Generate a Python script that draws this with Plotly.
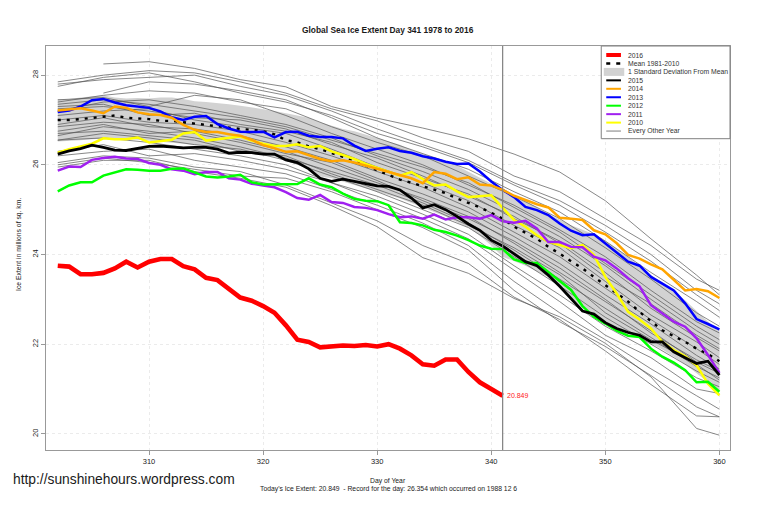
import plotly.graph_objects as go

# =============================================================================
# Data
# =============================================================================
days = list(range(302, 361))
today = 341
today_value = 20.849

ice_2016 = [23.75, 23.73, 23.56, 23.56, 23.59, 23.69, 23.84, 23.71, 23.84, 23.9,
            23.9, 23.74, 23.67, 23.48, 23.43, 23.23, 23.04, 22.97, 22.85, 22.7,
            22.42, 22.1, 22.05, 21.93, 21.96, 21.97, 21.96, 21.98, 21.95, 22.0,
            21.9, 21.75, 21.55, 21.52, 21.66, 21.66, 21.38, 21.15, 21.0, 20.849]

ice_2015 = [26.24, 26.31, 26.36, 26.44, 26.39, 26.33, 26.32, 26.36, 26.41, 26.42,
            26.4, 26.38, 26.39, 26.39, 26.35, 26.26, 26.28, 26.27, 26.24,
            26.24, 26.11, 26.05, 25.91, 25.7, 25.63, 25.68, 25.63, 25.58, 25.53,
            25.52, 25.44, 25.26, 25.04, 25.11, 25.0, 24.85, 24.68, 24.54, 24.32,
            24.19, 24.02, 23.84, 23.75, 23.54, 23.29, 23.02, 22.74, 22.67, 22.48,
            22.35, 22.26, 22.2, 22.05, 22.05, 21.83, 21.7, 21.57, 21.62, 21.31]

ice_2014 = [27.21, 27.24, 27.26, 27.21, 27.15, 27.3, 27.27, 27.17, 27.13, 27.11,
            27.05, 26.89, 26.78, 26.73, 26.73, 26.68, 26.65, 26.56, 26.44,
            26.37, 26.29, 26.3, 26.21, 26.13, 26.08, 26.1, 26.05, 25.98, 25.91,
            25.84, 25.78, 25.7, 25.59, 25.84, 25.8, 25.68, 25.72, 25.56, 25.54,
            25.44, 25.31, 25.21, 25.12, 25.05, 24.82, 24.8, 24.77, 24.54, 24.45,
            24.25, 23.99, 23.91, 23.78, 23.67, 23.44, 23.2, 23.23, 23.18, 23.03]

ice_2013 = [27.18, 27.21, 27.3, 27.44, 27.47, 27.39, 27.33, 27.3, 27.27, 27.19,
            27.06, 27.0, 27.07, 27.09, 26.91, 26.81, 26.74, 26.73, 26.74,
            26.61, 26.73, 26.74, 26.65, 26.62, 26.62, 26.59, 26.43, 26.31, 26.36,
            26.39, 26.31, 26.27, 26.19, 26.14, 26.07, 26.02, 26.03, 25.85, 25.63,
            25.44, 25.28, 25.06, 24.99, 24.88, 24.69, 24.53, 24.43, 24.45, 24.25,
            24.06, 23.84, 23.75, 23.5, 23.35, 23.2, 22.91, 22.56, 22.45, 22.33]

ice_2012 = [25.41, 25.54, 25.61, 25.61, 25.76, 25.83, 25.9, 25.89, 25.87, 25.87,
            25.91, 25.92, 25.83, 25.74, 25.72, 25.74, 25.78, 25.61, 25.56,
            25.56, 25.56, 25.57, 25.7, 25.56, 25.5, 25.36, 25.24, 25.2, 25.19,
            25.1, 24.72, 24.7, 24.65, 24.55, 24.5, 24.42, 24.32, 24.2, 24.13,
            24.12, 23.89, 23.81, 23.81, 23.61, 23.43, 23.21, 22.85, 22.61, 22.46,
            22.3, 22.19, 22.16, 21.9, 21.72, 21.59, 21.42, 21.15, 21.16, 20.94]

ice_2011 = [25.87, 25.96, 25.95, 26.11, 26.15, 26.18, 26.14, 26.13, 26.04, 26.0,
            25.9, 25.87, 25.79, 25.84, 25.84, 25.7, 25.67, 25.58, 25.54,
            25.5, 25.39, 25.26, 25.22, 25.33, 25.17, 25.15, 25.06, 25.04, 24.99,
            24.9, 24.83, 24.85, 24.8, 24.89, 24.78, 24.83, 24.83, 24.8, 24.88,
            24.74, 24.71, 24.75, 24.58, 24.28, 24.28, 24.17, 24.16, 23.95, 23.87,
            23.69, 23.47, 23.29, 22.87, 22.68, 22.5, 22.39, 22.13, 21.76, 21.36]

ice_2010 = [26.27, 26.35, 26.41, 26.47, 26.59, 26.57, 26.57, 26.61, 26.5, 26.53,
            26.56, 26.7, 26.73, 26.54, 26.57, 26.61, 26.63, 26.54, 26.47,
            26.42, 26.42, 26.46, 26.39, 26.42, 26.3, 26.22, 26.13, 26.02, 25.93,
            25.85, 25.76, 25.84, 25.68, 25.54, 25.56, 25.41, 25.28, 25.3, 25.32,
            25.04, 24.77, 24.62, 24.43, 24.28, 24.21, 24.14, 24.21, 23.99, 23.5,
            23.13, 22.72, 22.55, 22.35, 22.05, 21.87, 21.73, 21.53, 21.12, 20.86]

mean_8110 = [27.0, 27.0, 27.02, 27.05, 27.08, 27.1, 27.05, 27.03, 27.02, 26.98,
             26.98, 26.95, 26.92, 26.88, 26.85, 26.83, 26.8, 26.78, 26.75, 26.68,
             26.55, 26.5, 26.41, 26.35, 26.26, 26.18, 26.1, 25.98, 25.88, 25.78,
             25.67, 25.6, 25.52, 25.45, 25.37, 25.25, 25.15, 25.05, 24.93, 24.8,
             24.62, 24.48, 24.35, 24.17, 24.02, 23.85, 23.69, 23.5, 23.32, 23.15,
             22.95, 22.72, 22.52, 22.31, 22.18, 22.05, 21.9, 21.78, 21.62]

sd_upper = [27.46, 27.47, 27.5, 27.52, 27.55, 27.5, 27.48, 27.49, 27.48, 27.5,
            27.5, 27.47, 27.42, 27.4, 27.38, 27.35, 27.32, 27.28, 27.25, 27.2,
            27.15, 27.1, 27.05, 26.95, 26.88, 26.8, 26.75, 26.68, 26.6, 26.52,
            26.45, 26.33, 26.25, 26.17, 26.08, 25.98, 25.85, 25.72, 25.58, 25.44,
            25.3, 25.2, 25.05, 24.9, 24.78, 24.65, 24.55, 24.45, 24.3, 24.12,
            23.95, 23.73, 23.55, 23.35, 23.17, 22.98, 22.75, 22.5, 22.31]

sd_lower = [26.52, 26.53, 26.55, 26.57, 26.59, 26.6, 26.58, 26.56, 26.54, 26.52,
            26.5, 26.47, 26.44, 26.41, 26.38, 26.34, 26.3, 26.26, 26.22, 26.18,
            26.12, 26.05, 25.9, 25.74, 25.7, 25.62, 25.55, 25.48, 25.4, 25.33,
            25.25, 25.15, 25.05, 24.95, 24.85, 24.72, 24.6, 24.42, 24.2, 23.95,
            23.85, 23.75, 23.62, 23.5, 23.28, 23.05, 22.82, 22.65, 22.46, 22.38,
            22.28, 22.15, 22.02, 21.88, 21.72, 21.55, 21.35, 21.15, 20.98]

# thin lines are only read every few days
other_days = [302, 306, 310, 314, 318, 322, 326, 330, 334, 338, 342, 346, 350, 354, 358, 360]
other_years = [
    [None, 28.25, 28.3, 28.15, 27.9, 27.74, 27.3, 27.04, 26.82, 26.58, 26.24, 25.84, 25.2, 24.35, 23.54, 23.1],
    [27.85, 28.0, 28.1, 28.05, 27.85, 27.6, 27.25, 26.98, 26.6, 26.3, 25.75, 25.4, 24.8, 24.2, 23.45, 23.2],
    [27.8, 27.9, 27.95, 28.0, 27.75, 27.55, 27.2, 26.8, 26.45, 26.1, 25.6, 25.2, 24.65, 24.0, 23.2, 22.9],
    [27.75, 27.95, 28.05, 27.85, 27.6, 27.4, 27.1, 26.7, 26.4, 26.05, 25.55, 25.1, 24.5, 23.85, 23.1, 22.75],
    [None, 27.6, 27.85, 27.8, 27.65, 27.45, 27.05, 26.6, 26.25, 25.9, 25.4, 24.95, 24.3, 23.6, 22.95, 22.6],
    [27.4, 27.55, 27.65, 27.6, 27.4, 27.25, 26.85, 26.5, 26.2, 25.75, 25.3, 24.8, 24.15, 23.45, 22.7, 22.4],
    [27.45, 27.5, 27.3, 27.55, 27.45, 27.1, 26.7, 26.35, 26.0, 25.55, 25.1, 24.55, 23.95, 23.2, 22.5, 22.25],
    [27.2, 27.4, 27.45, 27.3, 27.1, 26.9, 26.6, 26.2, 25.85, 25.45, 24.95, 24.4, 23.75, 23.0, 22.3, 22.0],
    [27.3, 27.35, 27.1, 27.15, 26.9, 26.75, 26.5, 26.05, 25.7, 25.35, 24.8, 24.3, 23.6, 22.8, 22.15, 21.85],
    [27.1, 27.2, 27.25, 27.0, 26.85, 26.7, 26.35, 25.95, 25.6, 25.2, 24.65, 24.15, 23.4, 22.65, 22.05, 21.7],
    [27.0, 27.1, 26.95, 26.9, 26.75, 26.5, 26.2, 25.85, 25.5, 25.05, 24.5, 23.95, 23.25, 22.55, 21.9, 21.55],
    [26.9, 27.05, 26.85, 26.8, 26.65, 26.4, 26.1, 25.7, 25.35, 24.95, 24.4, 23.8, 23.1, 22.45, 21.75, 21.45],
    [26.75, 26.9, 26.7, 26.75, 26.55, 26.3, 25.95, 25.6, 25.25, 24.85, 24.25, 23.6, 22.95, 22.3, 21.6, 21.35],
    [26.65, 26.85, 26.75, 26.6, 26.4, 26.15, 25.85, 25.55, 25.15, 24.7, 24.1, 23.45, 22.8, 22.15, 21.5, 21.25],
    [26.55, 26.7, 26.6, 26.45, 26.35, 26.1, 25.75, 25.4, 25.0, 24.6, 23.95, 23.3, 22.6, 22.0, 21.4, 21.15],
    [26.55, 26.6, 26.5, 26.35, 26.2, 26.0, 25.6, 25.3, 24.9, 24.45, 23.75, 23.1, 22.4, 21.85, 21.25, 21.05],
    [26.3, 26.45, 26.2, 26.25, 26.1, 25.9, 25.6, 25.2, 24.8, 24.35, 23.65, 22.95, 22.2, 21.7, 21.0, 20.9],
    [26.2, 26.3, 26.35, 26.1, 25.95, 25.8, 25.45, 25.1, 24.7, 24.2, 23.4, 22.7, 22.1, 21.45, 20.85, 20.55],
    [26.0, 26.15, 26.05, 25.9, 25.75, 25.7, 25.4, 25.0, 24.6, 24.1, 23.2, 22.5, 21.95, 21.3, 20.6, 20.38],
    [26.05, 26.2, 26.15, 25.95, 25.85, 25.55, 25.15, 24.75, 24.2, 23.8, 23.05, 22.55, 21.85, 21.1, 20.4, 20.38],
    [25.95, 26.1, 26.1, 25.85, 25.7, 25.5, 25.09, 24.62, 23.93, 23.58, 23.02, 22.61, 22.02, 21.27, 20.12, 19.97],
    [27.25, 27.3, 27.2, 27.05, 27.0, 26.8, 26.45, 26.15, 25.75, 25.3, 24.85, 24.25, 23.5, 22.9, 22.2, 21.9],
    [27.35, 27.45, 27.35, 27.2, 27.05, 26.85, 26.55, 26.25, 25.95, 25.6, 25.05, 24.5, 23.8, 23.1, 22.4, 22.1],
    [26.85, 26.95, 26.9, 26.7, 26.5, 26.25, 26.05, 25.65, 25.2, 24.8, 24.3, 23.7, 23.0, 22.25, 21.65, 21.4],
    [26.7, 26.75, 26.65, 26.55, 26.3, 26.2, 25.8, 25.45, 25.1, 24.65, 24.15, 23.55, 22.7, 22.1, 21.55, 21.2],
]

x_ticks = [310, 320, 330, 340, 350, 360]
y_ticks = [20, 22, 24, 26, 28]

FONT = "Liberation Sans, Arial, sans-serif"
INK = "#1a1a1a"

# plot area in page pixels, for things placed by hand (legend, footer)
LEFT, RIGHT, TOP, BOTTOM = 46, 729.7, 46, 450
W, H = 760, 506


def px(x):
    return (x - LEFT) / (RIGHT - LEFT)


def py(y):
    return (BOTTOM - y) / (BOTTOM - TOP)


def page_text(x, y, text, size, xanchor="center", color=INK, angle=0):
    return dict(x=px(x), y=py(y), xref="paper", yref="paper", text=text, showarrow=False,
                xanchor=xanchor, yanchor="middle", textangle=angle,
                font=dict(size=size, color=color, family=FONT))


fig = go.Figure()

# 1 sd band
fig.add_trace(go.Scatter(x=days, y=sd_upper, mode="lines", line=dict(width=0), hoverinfo="skip"))
fig.add_trace(go.Scatter(x=days, y=sd_lower, mode="lines", line=dict(width=0), hoverinfo="skip",
                         fill="tonexty", fillcolor="#d2d2d2"))

for values in other_years:
    fig.add_trace(go.Scatter(x=other_days, y=values, mode="lines",
                             line=dict(color="#555555", width=0.7)))

fig.add_trace(go.Scatter(x=days, y=mean_8110, mode="lines",
                         line=dict(color="black", width=2.4, dash="3px 6px")))

for values, color, width in [
    (ice_2010, "#ffff00", 2.5),
    (ice_2011, "#a020f0", 2.5),
    (ice_2012, "#00ff00", 2.5),
    (ice_2013, "#0000ff", 2.5),
    (ice_2014, "#ffa500", 2.5),
    (ice_2015, "#000000", 2.8),
]:
    fig.add_trace(go.Scatter(x=days, y=values, mode="lines", line=dict(color=color, width=width)))

fig.add_trace(go.Scatter(x=days[:len(ice_2016)], y=ice_2016, mode="lines",
                         line=dict(color="#ff0000", width=4.6)))

fig.add_shape(type="line", x0=today, x1=today, y0=0, y1=1, xref="x", yref="paper",
              line=dict(color="#808080", width=1.2))

annotations = [
    dict(x=today, y=today_value, xref="x", yref="y", text=str(today_value), showarrow=False,
         xanchor="left", yanchor="middle", xshift=2, font=dict(size=7, color="#ff2020", family=FONT)),
    page_text(388, 30, "<b>Global Sea Ice Extent Day 341 1978 to 2016</b>", 8.4),
    page_text(19, 244, "Ice Extent in millions of sq. km.", 6.8, angle=-90),
    page_text(388, 481, "Day of Year", 6.8),
    page_text(388, 489, "Today's Ice Extent: 20.849  - Record for the day: 26.354 which occurred on 1988 12 6", 6.8),
    page_text(11, 479, "http://sunshinehours.wordpress.com", 13.8, xanchor="left"),
]

# R style legend, plotly's own rows cannot get this tight
fig.add_shape(type="rect", x0=px(601), x1=px(RIGHT), y0=py(138.7), y1=py(TOP),
              xref="paper", yref="paper", fillcolor="white", line=dict(color="#808080", width=1))

legend_rows = [
    ("2016", "#ff0000", 4, "solid"),
    ("Mean 1981-2010", "black", 2.4, "4px 6px"),
    ("1 Standard Deviation From Mean", None, 0, None),
    ("2015", "black", 2, "solid"),
    ("2014", "#ffa500", 2, "solid"),
    ("2013", "#0000ff", 2, "solid"),
    ("2012", "#00ff00", 2, "solid"),
    ("2011", "#a020f0", 2, "solid"),
    ("2010", "#ffff00", 2, "solid"),
    ("Every Other Year", "#5a5a5a", 0.8, "solid"),
]
for i, (label, color, width, dash) in enumerate(legend_rows):
    row_y = 55 + i * 8.45
    if color is None:
        fig.add_shape(type="rect", x0=px(603.5), x1=px(624), y0=py(row_y + 4), y1=py(row_y - 4),
                      xref="paper", yref="paper", fillcolor="#d2d2d2", line=dict(width=0))
    else:
        fig.add_shape(type="line", x0=px(606), x1=px(620.7), y0=py(row_y), y1=py(row_y),
                      xref="paper", yref="paper", line=dict(color=color, width=width, dash=dash))
    annotations.append(page_text(625.5, row_y, label, 6.8, xanchor="left", color="#333333"))

grid = dict(showgrid=True, gridcolor="#ebebeb", griddash="dot", gridwidth=1, zeroline=False)
frame = dict(showline=True, mirror=True, linecolor="#999999", linewidth=1.2,
             ticks="outside", ticklen=4, tickcolor="#999999", tickwidth=1)

fig.update_xaxes(range=[300.97, 360.93], tickvals=x_ticks,
                 tickfont=dict(size=7.5, color=INK, family=FONT), **grid, **frame)
fig.update_yaxes(range=[19.64, 28.65], tickvals=y_ticks, tickangle=-90,
                 tickfont=dict(size=7.5, color=INK, family=FONT), **grid, **frame)

fig.update_layout(
    width=W,
    height=H,
    margin=dict(l=LEFT, r=W - RIGHT, t=TOP, b=H - BOTTOM),
    paper_bgcolor="white",
    plot_bgcolor="white",
    showlegend=False,
    annotations=annotations,
)

fig.write_html("out.html", config=dict(displayModeBar=False),
               post_script="document.body.style.margin='0';")
